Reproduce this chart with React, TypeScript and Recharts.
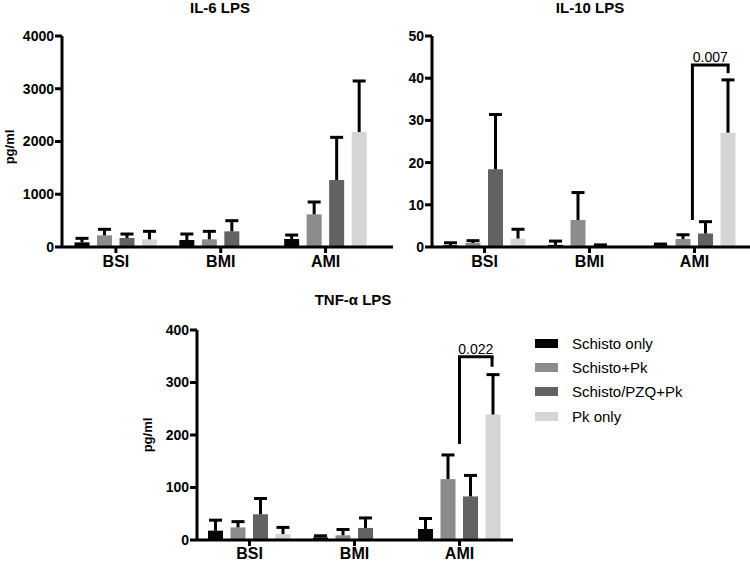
import { BarChart, Bar, XAxis, YAxis, ReferenceLine } from "recharts"

const FONT = '"Liberation Sans", Arial, Helvetica, sans-serif'

const GROUPS = ["BSI", "BMI", "AMI"]
const SERIES_NAMES = ["Schisto only", "Schisto+Pk", "Schisto/PZQ+Pk", "Pk only"]
const SERIES_COLORS = ["#050505", "#8c8c8c", "#626262", "#d5d5d5"]

// rows = series, columns = groups (BSI, BMI, AMI); null = no bar
const IL6_MEAN = [
  [88, 133, 152],
  [221, 145, 619],
  [171, 297, 1270],
  [145, null, 2180],
]
const IL6_SEM = [
  [76, 113, 75],
  [114, 152, 234],
  [75, 202, 809],
  [152, null, 967],
]
const IL6_TICKS = [0, 1000, 2000, 3000, 4000]

const IL10_MEAN = [
  [0.4, 0.5, 0.4],
  [0.95, 6.4, 1.9],
  [18.4, 0.3, 3.2],
  [2.0, null, 27.1],
]
const IL10_SEM = [
  [0.6, 0.9, 0.3],
  [0.55, 6.5, 1.0],
  [13.0, 0.2, 2.8],
  [2.2, null, 12.5],
]
const IL10_TICKS = [0, 10, 20, 30, 40, 50]
// bracket x is in group units (AMI spans 2..3)
const IL10_BRACKET = { from: 2.48, to: 2.82, top: 43.1, leftEnd: 6.4, rightEnd: 41.2, label: "0.007" }

const TNF_MEAN = [
  [17.8, 5, 21],
  [24, 9, 116],
  [49, 23, 83],
  [11.4, null, 239],
]
const TNF_SEM = [
  [20, 3, 20],
  [11, 11, 46],
  [30, 19, 40],
  [12.6, null, 76],
]
const TNF_TICKS = [0, 100, 200, 300, 400]
const TNF_BRACKET = { from: 2.5, to: 2.81, top: 349, leftEnd: 183, rightEnd: 330, label: "0.022" }

type Bracket = typeof IL10_BRACKET

function buildRows(mean: (number | null)[][], sem: (number | null)[][]) {
  return GROUPS.map((g, gi) => {
    const row: Record<string, any> = { group: g, pos: gi + 0.5 }
    mean.forEach((s, si) => {
      row[`m${si}`] = s[gi]
      row[`e${si}`] = sem[si][gi]
    })
    return row
  })
}

function ErrorTee(props: any) {
  const { x, y, width, height, err } = props
  if (err == null) return null
  const cx = x + width / 2
  return (
    <g>
      <line x1={cx} x2={cx} y1={y + height} y2={y} stroke="#000" strokeWidth={3} />
      <line x1={cx - 6.5} x2={cx + 6.5} y1={y} y2={y} stroke="#000" strokeWidth={3} />
    </g>
  )
}

interface PanelProps {
  mean: (number | null)[][]
  sem: (number | null)[][]
  ticks: number[]
  width: number
  height: number
  top: number
  right: number
  yWidth: number
  xHeight: number
  padLeft: number
  padRight: number
  tickMargin: number
  bracket?: Bracket
}

function Panel(p: PanelProps) {
  const data = buildRows(p.mean, p.sem)
  const axisTick = { fill: "#000", fontSize: 14, fontWeight: 700, fontFamily: FONT }
  const padding = { left: p.padLeft, right: p.padRight }
  const b = p.bracket
  const lineProps = { xAxisId: "n", stroke: "#000", strokeWidth: 3 }
  return (
    <BarChart
      width={p.width}
      height={p.height}
      data={data}
      margin={{ top: p.top, right: p.right, bottom: 0, left: 0 }}
      barSize={15}
      barGap={7.5}
    >
      <XAxis
        dataKey="group"
        height={p.xHeight}
        padding={padding}
        axisLine={{ stroke: "#000", strokeWidth: 3 }}
        tickLine={{ stroke: "#000", strokeWidth: 3 }}
        tickSize={6}
        tickMargin={p.tickMargin}
        tick={{ ...axisTick, fontSize: 16 }}
        interval={0}
      />
      <XAxis
        xAxisId="n"
        dataKey="pos"
        type="number"
        scale="linear"
        domain={[0, 3]}
        hide
        padding={padding}
        allowDataOverflow
      />
      <YAxis
        width={p.yWidth}
        domain={[p.ticks[0], p.ticks[p.ticks.length - 1]]}
        ticks={p.ticks}
        interval={0}
        axisLine={{ stroke: "#000", strokeWidth: 3 }}
        tickLine={{ stroke: "#000", strokeWidth: 3 }}
        tickSize={7}
        tickMargin={1}
        tick={axisTick}
        allowDataOverflow
      />
      {SERIES_COLORS.map((c, i) => (
        <Bar key={`m${i}`} dataKey={`m${i}`} stackId={`s${i}`} fill={c} isAnimationActive={false} />
      ))}
      {SERIES_COLORS.map((_, i) => (
        <Bar
          key={`e${i}`}
          dataKey={`e${i}`}
          stackId={`s${i}`}
          fill="none"
          isAnimationActive={false}
          shape={(sp: any) => <ErrorTee {...sp} err={sp.payload?.[`e${i}`]} />}
        />
      ))}
      {b && (
        <ReferenceLine
          {...lineProps}
          segment={[{ x: b.from, y: b.leftEnd }, { x: b.from, y: b.top }]}
        />
      )}
      {b && (
        <ReferenceLine
          {...lineProps}
          strokeLinecap="square"
          segment={[{ x: b.from, y: b.top }, { x: b.to, y: b.top }]}
          label={{ value: b.label, position: "top", offset: 3, fill: "#000", fontSize: 14, fontFamily: FONT }}
        />
      )}
      {b && (
        <ReferenceLine
          {...lineProps}
          segment={[{ x: b.to, y: b.top }, { x: b.to, y: b.rightEnd }]}
        />
      )}
    </BarChart>
  )
}

function Title({ text, cx, top }: { text: string; cx: number; top: number }) {
  return (
    <div
      style={{
        position: "absolute",
        left: cx - 100,
        top,
        width: 200,
        textAlign: "center",
        fontFamily: FONT,
        fontWeight: 700,
        fontSize: 15,
        lineHeight: "15px",
      }}
    >
      {text}
    </div>
  )
}

function YLabel({ cx, cy }: { cx: number; cy: number }) {
  return (
    <div
      style={{
        position: "absolute",
        left: cx,
        top: cy,
        transform: "translate(-50%, -50%) rotate(-90deg)",
        fontFamily: FONT,
        fontWeight: 700,
        fontSize: 13,
        lineHeight: "13px",
        whiteSpace: "nowrap",
      }}
    >
      pg/ml
    </div>
  )
}

export default function App() {
  return (
    <div style={{ position: "absolute", left: 0, top: 0, width: 750, height: 562, background: "#fff", overflow: "hidden" }}>
      <div style={{ position: "absolute", left: 0, top: 0 }}>
        <Panel
          mean={IL6_MEAN}
          sem={IL6_SEM}
          ticks={IL6_TICKS}
          width={400}
          height={275}
          top={36}
          right={7}
          yWidth={62}
          xHeight={28}
          padLeft={1.5}
          padRight={15}
          tickMargin={3}
        />
      </div>
      <div style={{ position: "absolute", left: 375, top: 0 }}>
        <Panel
          mean={IL10_MEAN}
          sem={IL10_SEM}
          ticks={IL10_TICKS}
          width={375}
          height={275}
          top={36}
          right={0}
          yWidth={57}
          xHeight={28}
          padLeft={0}
          padRight={3}
          tickMargin={3}
          bracket={IL10_BRACKET}
        />
      </div>
      <div style={{ position: "absolute", left: 130, top: 280 }}>
        <Panel
          mean={TNF_MEAN}
          sem={TNF_SEM}
          ticks={TNF_TICKS}
          width={383}
          height={282}
          top={50}
          right={0}
          yWidth={67}
          xHeight={22}
          padLeft={0}
          padRight={1}
          tickMargin={2}
          bracket={TNF_BRACKET}
        />
      </div>
      <Title text="IL-6 LPS" cx={220} top={0} />
      <Title text="IL-10 LPS" cx={590} top={0} />
      <Title text="TNF-α LPS" cx={353} top={292} />
      <YLabel cx={9} cy={147} />
      <YLabel cx={147} cy={435} />
      {SERIES_NAMES.map((name, i) => (
        <div
          key={name}
          style={{
            position: "absolute",
            left: 535,
            top: 335 + i * 24.4,
            height: 16,
            display: "flex",
            alignItems: "center",
            fontFamily: FONT,
            fontSize: 15,
            whiteSpace: "nowrap",
          }}
        >
          <div style={{ width: 23, height: 9, background: SERIES_COLORS[i], marginRight: 14 }} />
          <span>{name}</span>
        </div>
      ))}
    </div>
  )
}
